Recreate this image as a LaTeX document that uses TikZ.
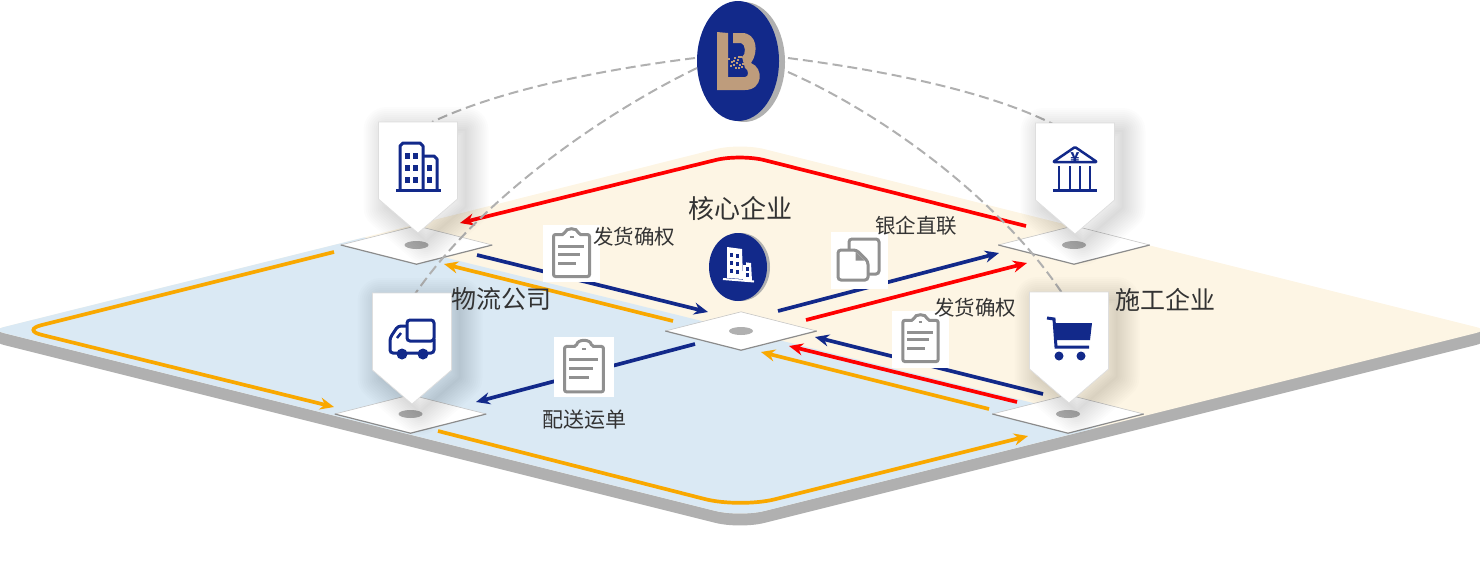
\documentclass[tikz,border=0pt]{standalone}
\usepackage{fontspec}
\usetikzlibrary{arrows.meta, shapes.geometric, positioning}
\newfontfamily\cjk{Noto Sans CJK SC}
\definecolor{navy}{HTML}{12298A}
\definecolor{tan}{HTML}{BE9C7C}
\definecolor{cream}{HTML}{FDF5E4}
\definecolor{skyblue}{HTML}{DAE9F4}
\definecolor{sidegray}{HTML}{B0B0B0}
\definecolor{icongray}{HTML}{909090}
\definecolor{amber}{HTML}{F9A800}
\definecolor{textgray}{HTML}{333333}
\newcommand{\platepath}{(370,236) [rounded corners=12pt] -- (-8,330) [rounded corners=25pt] -- (740,517) [rounded corners=12pt] -- (1488,330) [rounded corners=25pt] -- (740,143) -- cycle}
\newcommand{\pinpath}{(-39.5,0) -- (39.5,0) -- (39.5,77) -- (0,111) -- (-39.5,77) -- cycle}
\tikzset{
	platform/.style={diamond, fill=white, aspect=3.9, minimum width=151pt, minimum height=38pt, inner sep=0pt},
	flow/.style={line width=3.7pt, -{Stealth[length=14pt, width=12pt]}},
	dashline/.style={draw=sidegray, line width=2pt, dash pattern=on 10pt off 5pt},
	iconbox/.style={fill=white, inner sep=0pt},
	biglabel/.style={text=textgray, font=\cjk\fontsize{25}{30}\selectfont},
	smalllabel/.style={text=textgray, font=\cjk\fontsize{20.5}{25}\selectfont},
	pinbox/.pic={
		\foreach \w in {2,6,...,46}
			\draw[black, opacity=.012, line width=\w pt, line join=round, shift={(8,8)}] \pinpath;
		\draw[fill=white, draw=black!13, line width=.7pt] \pinpath;
	},
	clipboard/.pic={
		\draw[icongray, line width=3pt, rounded corners=2pt] (-18,-19) -- (-7,-19) .. controls (-6,-26) and (6,-26) .. (7,-19) -- (18,-19) -- (18,23) -- (-18,23) -- cycle;
		\draw[icongray, line width=2pt] (-2,-17) -- (2,-17);
		\draw[icongray, line width=3pt] (-13.5,-7) -- (12.5,-7);
		\draw[icongray, line width=3pt] (-13.5,1) -- (8.5,1);
		\draw[icongray, line width=3pt] (-13.5,10) -- (4.5,10);
	},
	sheets/.pic={
		\draw[icongray, line width=3pt, rounded corners=3pt] (-10.5,-10.5) -- (-10.5,-21.5) -- (19.5,-21.5) -- (19.5,13.5) -- (8.5,13.5);
		\draw[icongray, line width=3pt, rounded corners=3pt] (-21.5,-10.5) -- (-3,-10.5) -- (8.5,1) -- (8.5,19.5) -- (-21.5,19.5) -- cycle;
		\fill[icongray] (-4,-9) -- (-4,0) -- (5,0) -- cycle;
	},
	towers/.pic={
		\draw[navy, line width=3pt, line join=round] (-18,68) -- (-18,24) -- (-15,21) -- (2,21) -- (5,24) -- (5,68);
		\draw[navy, line width=3pt, line join=round] (5,34) -- (16,34) -- (19,37) -- (19,68);
		\draw[navy, line width=3pt] (-22,68) -- (23,68);
		\foreach \a/\b in {-13/31,-5/31,-13/43,-5/43,-13/55,-5/55,9/43,9/55}
			\fill[navy] (\a,\b) rectangle +(5,5.5);
	},
	bankhall/.pic={
		\draw[navy, line width=2.5pt, line join=round, rounded corners=1pt] (-22,39) -- (0,24) -- (22,39) -- cycle;
		\foreach \a in {-16,-5,5,15}
			\draw[navy, line width=2.5pt] (\a,43) -- (\a,67);
		\draw[navy, line width=3pt] (-22,67) -- (22,67);
		\node[text=navy, inner sep=0pt, font=\cjk\bfseries\fontsize{15}{15}\selectfont] (yen) at (0,35) {¥};
	},
	lorry/.pic={
		\draw[navy, line width=3pt, rounded corners=3pt] (-5,48) -- (-5,27) -- (22,27) -- (22,48) -- cycle;
		\draw[navy, line width=3pt, rounded corners=3pt] (-5,33) -- (-14,33) -- (-22,45) -- (-22,60) -- (22,60) -- (22,46);
		\draw[navy, line width=2.5pt] (-15,45) -- (-11,40);
		\fill[navy] (-10,61) circle (5.5);
		\fill[navy] (11,61) circle (5.5);
	},
	trolley/.pic={
		\draw[navy, line width=3pt] (-22,26) -- (-15,27) -- (-13,55) -- (20,55);
		\fill[navy] (-14,31) -- (23,31) -- (21,48) -- (-13,48) -- cycle;
		\fill[navy] (-10,64) circle (4.5);
		\fill[navy] (12,64) circle (4.5);
	},
}

\begin{document}
\begin{tikzpicture}[x=1pt, y=-1pt]
\useasboundingbox (0,0) rectangle (1480,563);

%plate
\foreach \s in {2,4,...,12}
	\fill[sidegray, shift={(0,\s)}] \platepath;
\fill[cream] \platepath;
\begin{scope}
	\clip \platepath;
	\fill[skyblue] (330,229) -- (1110,422) -- (740,560) -- (-20,340) -- (-20,300) -- cycle;
\end{scope}

%platforms
\foreach \n/\x/\y in {shipper/416.5/245, core/741/331, bank/1074/245, carrier/410.5/414, builder/1068/414}{
	\node[platform] (\n) at (\x,\y) {};
	\draw[black!22, line width=.6pt] (\n.west) -- (\n.north) -- (\n.east);
	\draw[black!45, line width=1.2pt] (\n.west) -- (\n.south) -- (\n.east);
	\fill[sidegray] (\n) ellipse (12 and 4);
}

%arrow ends
\coordinate (topa) at (1026,226);
\coordinate (topb) at (740,154);
\coordinate (topc) at (460,223);
\coordinate (shipa) at (477,255);
\coordinate (shipb) at (708,312);
\coordinate (backa) at (673,321);
\coordinate (backb) at (444,264);
\coordinate (senda) at (695,344);
\coordinate (sendb) at (476,402);
\coordinate (linka) at (778,311);
\coordinate (linkb) at (999,253);
\coordinate (paya) at (806,320);
\coordinate (payb) at (1027,263);
\coordinate (goodsa) at (1043,394);
\coordinate (goodsb) at (815,337);
\coordinate (reda) at (1017,402);
\coordinate (redb) at (789,346);
\coordinate (amba) at (989,409);
\coordinate (ambb) at (761,352);
\coordinate (lefta) at (334,252);
\coordinate (leftb) at (22,330);
\coordinate (leftc) at (334,407);
\coordinate (lowa) at (438,431);
\coordinate (lowb) at (740,508);
\coordinate (lowc) at (1028,436);

\draw[flow, red, rounded corners=25pt] (topa) -- (topb) -- (topc);
\draw[flow, navy] (shipa) -- (shipb);
\draw[flow, amber] (backa) -- (backb);
\draw[flow, navy] (senda) -- (sendb);
\draw[flow, navy] (linka) -- (linkb);
\draw[flow, red] (paya) -- (payb);
\draw[flow, navy] (goodsa) -- (goodsb);
\draw[flow, red] (reda) -- (redb);
\draw[flow, amber] (amba) -- (ambb);
\draw[flow, amber, rounded corners=20pt] (lefta) -- (leftb) -- (leftc);
\draw[flow, amber, rounded corners=36pt] (lowa) -- (lowb) -- (lowc);

%dashed links
\coordinate (logoa) at (695,58);
\coordinate (logob) at (697,68);
\coordinate (logoc) at (788,58);
\coordinate (logod) at (788,72);
\coordinate (pina) at (432,122);
\coordinate (pinb) at (415,294);
\coordinate (pinc) at (1053,124);
\coordinate (pind) at (1062,293);
\draw[dashline] (logoa) .. controls (600,70) and (500,90) .. (pina);
\draw[dashline] (logob) .. controls (600,115) and (480,200) .. (pinb);
\draw[dashline] (logoc) .. controls (880,70) and (985,90) .. (pinc);
\draw[dashline] (logod) .. controls (885,115) and (1000,200) .. (pind);

%pins
\pic at (418,122) {pinbox};
\pic at (1075,123) {pinbox};
\pic at (412,293) {pinbox};
\pic at (1069,292) {pinbox};
\pic at (418,122) {towers};
\pic at (1075,123) {bankhall};
\pic at (412,293) {lorry};
\pic at (1069,292) {trolley};

%coins
\fill[sidegray] (744,62) ellipse (41 and 60);
\node[ellipse, fill=navy, minimum width=82pt, minimum height=120pt, inner sep=0pt] (logo) at (738,61) {};
\fill[tan] (717,32) -- (728,33) -- (728,77) -- (745,77) .. controls (749,77) and (749,70) .. (745,68) -- (742,57) .. controls (746,55) and (746,44) .. (741,43) -- (733,43) -- (733,33) -- (742,33) .. controls (757,33) and (759,52) .. (751,63) .. controls (764,68) and (763,90) .. (745,90) -- (717,90) -- cycle;
\foreach \a/\b in {728/58,731/61,734/57,737/59,740/56,743/60,730/65,733/64,736/62,739/64,742/63,745/62,735/67,738/67,741/66,747/65,733/60,738/56}
	\fill[tan] (\a,\b) rectangle +(1.6,1.6);
\fill[sidegray] (741,267) ellipse (29 and 34);
\node[ellipse, fill=navy, minimum width=58pt, minimum height=68pt, inner sep=0pt] (corecoin) at (738,267) {};
\fill[white] (727,247) -- (742,249) -- (743,279) -- (727,278) -- cycle;
\fill[white] (743,262) -- (751,263) -- (752,281) -- (743,280) -- cycle;
\draw[white, line width=2pt] (723,279) -- (754,281.5);
\foreach \a/\b in {730/253,736/254,730/261,736/262,743/261,730/269,736/270,746/267,746/273}
	\fill[navy] (\a,\b) rectangle +(3,3.5);

%paper icons
\node[iconbox, minimum size=57pt] (notea) at (571.5,253.5) {};
\node[iconbox, minimum size=60pt] (noteb) at (584,367) {};
\node[iconbox, minimum size=57pt] (notec) at (920.5,339) {};
\node[iconbox, minimum size=57pt] (noted) at (859.5,260.5) {};
\pic at (notea) {clipboard};
\pic[scale=1.08] at (noteb) {clipboard};
\pic[scale=.98] at (notec) {clipboard};
\pic at (noted) {sheets};

%labels
\node[biglabel, font=\cjk\fontsize{26}{30}\selectfont] (corelabel) at (740,209) {核心企业};
\node[biglabel] (carrierlabel) at (501.5,299) {物流公司};
\node[biglabel] (builderlabel) at (1165,300) {施工企业};
\node[smalllabel] (ackalabel) at (634,237) {发货确权};
\node[smalllabel] (ackblabel) at (975,308) {发货确权};
\node[smalllabel] (banklabel) at (916,226) {银企直联};
\node[smalllabel, font=\cjk\fontsize{21}{25}\selectfont] (sendlabel) at (584.5,420) {配送运单};
\end{tikzpicture}
\end{document}
